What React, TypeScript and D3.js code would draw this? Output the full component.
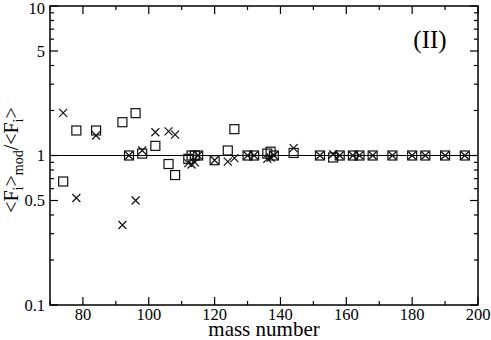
import React from "react";
import * as d3 from "d3";

const sqMass = [74, 78, 84, 92, 94, 96, 98, 102, 106, 108, 112, 113, 114, 115, 120, 124, 126, 130, 132, 136, 137, 138, 144, 152, 156, 158, 162, 164, 168, 174, 180, 184, 190, 196];
const sqRatio = [0.67, 1.47, 1.47, 1.67, 1.0, 1.92, 1.03, 1.16, 0.877, 0.74, 0.95, 1.0, 1.0, 1.0, 0.93, 1.08, 1.5, 1.0, 1.0, 1.03, 1.06, 1.0, 1.04, 1.0, 0.97, 1.0, 1.0, 1.0, 1.0, 1.0, 1.0, 1.0, 1.0, 1.0];
const xMass = [74, 78, 84, 92, 94, 96, 98, 102, 106, 108, 112, 113, 114, 115, 120, 124, 126, 130, 132, 136, 137, 138, 144, 152, 156, 158, 162, 164, 168, 174, 180, 184, 190, 196];
const xRatio = [1.93, 0.52, 1.36, 0.343, 1.0, 0.5, 1.08, 1.43, 1.45, 1.38, 0.89, 0.87, 0.9, 1.0, 0.93, 0.91, 0.96, 1.0, 1.0, 0.95, 0.97, 1.0, 1.12, 1.0, 1.02, 1.0, 1.0, 1.0, 1.0, 1.0, 1.0, 1.0, 1.0, 1.0];

const xMajor = [80, 100, 120, 140, 160, 180, 200];
const xMinor = [70, 90, 110, 130, 150, 170, 190];
const yMajor = [0.1, 0.5, 1, 5, 10];
const yMinor = [0.2, 0.3, 0.4, 0.6, 0.7, 0.8, 0.9, 2, 3, 4, 6, 7, 8, 9];
const yLabels = ["0.1", "0.5", "1", "5", "10"];

const W = 491, H = 340;
const L = 50, R = 478, T = 6, B = 305;
const font = "Liberation Serif, DejaVu Serif, serif";

export default function App() {
  const x = d3.scaleLinear().domain([70, 200]).range([L, R]);
  const y = d3.scaleLog().domain([0.1, 10]).range([B, T]);
  const sq = 9;
  const cr = 4;
  return (
    <svg width={W} height={H} style={{ position: "absolute", left: 0, top: 0, fontFamily: font }}>
      <rect x={0} y={0} width={W} height={H} fill="#fff" />
      <line x1={L} x2={R} y1={y(1)} y2={y(1)} stroke="#000" strokeWidth={1} />
      <rect x={L} y={T} width={R - L} height={B - T} fill="none" stroke="#000" strokeWidth={1.5} />
      {xMajor.map((v) => (
        <g key={"xM" + v}>
          <line x1={x(v)} x2={x(v)} y1={B} y2={B - 8} stroke="#000" strokeWidth={1.2} />
          <line x1={x(v)} x2={x(v)} y1={T} y2={T + 8} stroke="#000" strokeWidth={1.2} />
          <text x={x(v)} y={320} textAnchor="middle" fontSize={16.5} style={{ fontFamily: font }}>{v}</text>
        </g>
      ))}
      {xMinor.map((v) => (
        <g key={"xm" + v}>
          <line x1={x(v)} x2={x(v)} y1={B} y2={B - 4} stroke="#000" strokeWidth={1.2} />
          <line x1={x(v)} x2={x(v)} y1={T} y2={T + 4} stroke="#000" strokeWidth={1.2} />
        </g>
      ))}
      {yMajor.map((v, i) => (
        <g key={"yM" + v}>
          <line x1={L} x2={L + 8} y1={y(v)} y2={y(v)} stroke="#000" strokeWidth={1.2} />
          <line x1={R} x2={R - 8} y1={y(v)} y2={y(v)} stroke="#000" strokeWidth={1.2} />
          <text x={45} y={y(v) + (i === 4 ? 2.5 : 0)} dy="0.35em" textAnchor="end" fontSize={16.5} style={{ fontFamily: font }}>{yLabels[i]}</text>
        </g>
      ))}
      {yMinor.map((v) => (
        <g key={"ym" + v}>
          <line x1={L} x2={L + 4} y1={y(v)} y2={y(v)} stroke="#000" strokeWidth={1.2} />
          <line x1={R} x2={R - 4} y1={y(v)} y2={y(v)} stroke="#000" strokeWidth={1.2} />
        </g>
      ))}
      {sqMass.map((m, i) => (
        <rect key={"s" + i} x={x(m) - sq / 2} y={y(sqRatio[i]) - sq / 2} width={sq} height={sq} fill="none" stroke="#111" strokeWidth={1.2} />
      ))}
      {xMass.map((m, i) => {
        const cx = x(m), cy = y(xRatio[i]);
        return (
          <path key={"c" + i} d={`M${cx - cr},${cy - cr}L${cx + cr},${cy + cr}M${cx - cr},${cy + cr}L${cx + cr},${cy - cr}`} stroke="#111" strokeWidth={1.2} fill="none" />
        );
      })}
      <text x={(L + R) / 2} y={336} textAnchor="middle" fontSize={21} style={{ fontFamily: font }}>mass number</text>
      <text transform="translate(18,160) rotate(-90)" textAnchor="middle" fontSize={20} style={{ fontFamily: font }}>
        {"<F"}<tspan fontSize={14} dy={5}>i</tspan><tspan dy={-5}>{">"}</tspan><tspan fontSize={14} dy={5}>mod</tspan><tspan dy={-5}>{"/<F"}</tspan><tspan fontSize={14} dy={5}>i</tspan><tspan dy={-5}>{">"}</tspan>
      </text>
      <text x={430} y={48} textAnchor="middle" fontSize={25} style={{ fontFamily: font }}>(II)</text>
    </svg>
  );
}
